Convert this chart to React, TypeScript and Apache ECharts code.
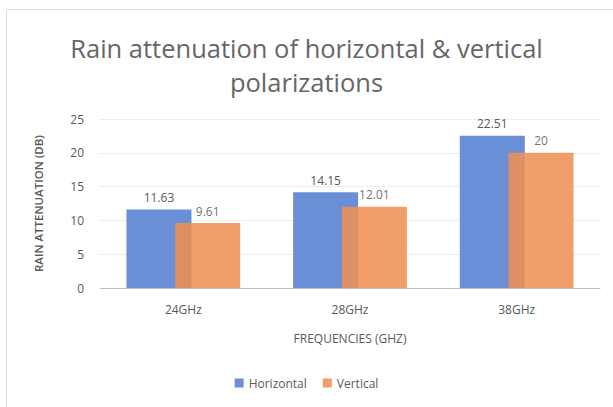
import React, { useEffect, useRef } from "react";
import * as echarts from "echarts";

const categories = ["24GHz", "28GHz", "38GHz"];
const horizontal = [11.63, 14.15, 22.51];
const vertical = [9.61, 12.01, 20];
const yTicks = { min: 0, max: 25, interval: 5 };
const titleText = "Rain attenuation of horizontal & vertical\npolarizations";

export default function App() {
  const ref = useRef<HTMLDivElement>(null);
  useEffect(() => {
    if (!ref.current) return;
    const chart = echarts.init(ref.current, undefined, { renderer: "svg" });
    const font = "'Open Sans', 'Liberation Sans', sans-serif";
    chart.setOption({
      animation: false,
      backgroundColor: "#ffffff",
      textStyle: { fontFamily: font },
      graphic: [
        {
          type: "rect",
          shape: { x: 6.5, y: 9.5, width: 620, height: 420 },
          style: { fill: "none", stroke: "#d9d9d9", lineWidth: 1 },
          silent: true,
        },
      ],
      title: {
        text: titleText,
        left: "center",
        top: 26,
        textStyle: {
          fontFamily: font,
          fontSize: 25.5,
          fontWeight: "normal",
          color: "#666666",
          lineHeight: 34,
        },
      },
      legend: {
        bottom: 13,
        left: "center",
        itemWidth: 9,
        itemHeight: 9,
        itemGap: 16,
        icon: "rect",
        textStyle: { color: "#595959", fontSize: 12, fontFamily: font },
        data: ["Horizontal", "Vertical"],
      },
      grid: { left: 100, right: 13, top: 119, bottom: 119 },
      xAxis: {
        type: "category",
        data: categories,
        name: "FREQUENCIES (GHZ)",
        nameLocation: "middle",
        nameGap: 44,
        nameTextStyle: { color: "#595959", fontSize: 12, fontFamily: font },
        axisLine: { lineStyle: { color: "#bfbfbf", width: 1 } },
        axisTick: { show: false },
        axisLabel: { color: "#595959", fontSize: 12, margin: 15 },
      },
      yAxis: {
        type: "value",
        min: yTicks.min,
        max: yTicks.max,
        interval: yTicks.interval,
        name: "RAIN ATTENUATION (DB)",
        nameLocation: "middle",
        nameGap: 56,
        nameRotate: 90,
        nameTextStyle: { color: "#595959", fontSize: 11.5, fontWeight: 600, fontFamily: font },
        axisLine: { show: false },
        axisTick: { show: false },
        axisLabel: { color: "#595959", fontSize: 12, margin: 16 },
        splitLine: { lineStyle: { color: "#ececec", width: 1 } },
      },
      series: [
        {
          name: "Horizontal",
          type: "bar",
          data: horizontal,
          barWidth: 65,
          barGap: "-25%",
          itemStyle: { color: "#6b8fd6" },
          label: { show: true, position: "top", color: "#595959", fontSize: 12, distance: 6 },
        },
        {
          name: "Vertical",
          type: "bar",
          data: vertical,
          barWidth: 65,
          itemStyle: { color: "#ee9155", opacity: 0.88 },
          label: { show: true, position: "top", color: "#595959", fontSize: 12, distance: 6 },
        },
      ],
    });
    return () => chart.dispose();
  }, []);
  return (
    <div
      ref={ref}
      style={{ position: "fixed", left: 0, top: 0, width: 613, height: 407 }}
    />
  );
}
